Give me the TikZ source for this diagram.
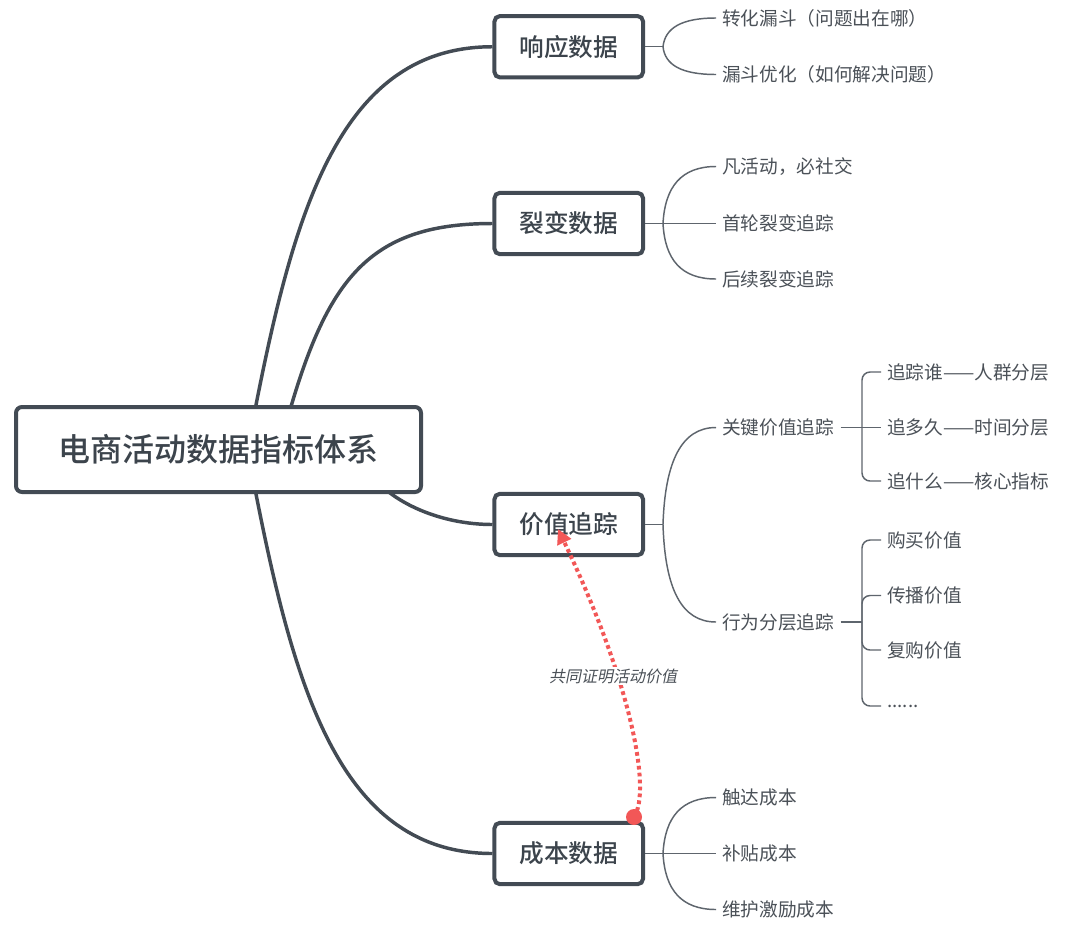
\documentclass[tikz,border=0pt]{standalone}
\usepackage{fontspec}
\setmainfont{Noto Sans CJK SC}
\newfontfamily\medfont{Noto Sans CJK SC Medium}
\newfontfamily\slantfont[FakeSlant=0.2]{Noto Sans CJK SC}
\usetikzlibrary{arrows.meta,backgrounds}
\definecolor{boxline}{HTML}{434B54}
\definecolor{txt}{HTML}{3C444C}
\definecolor{subtxt}{HTML}{4B5158}
\definecolor{subline}{HTML}{5E656D}
\definecolor{redline}{HTML}{F25757}
\begin{document}
\begin{tikzpicture}[x=0.75pt,y=-0.75pt,
 rootbox/.style={draw=boxline,line width=3pt,rounded corners=4.5pt,fill=white,minimum width=303.75pt,minimum height=63.75pt,inner sep=0pt,font=\medfont\fontsize{24}{28}\selectfont,text=txt},
 branchbox/.style={draw=boxline,line width=3pt,rounded corners=4pt,fill=white,minimum width=111.4pt,minimum height=46pt,inner sep=0pt,font=\medfont\fontsize{18.5}{22}\selectfont,text=txt},
 leaf/.style={anchor=west,inner xsep=4.5pt,inner ysep=2pt,font=\fontsize{14}{17}\selectfont,text=subtxt},
 mainlink/.style={draw=boxline,line width=2.6pt},
 sublink/.style={draw=subline,line width=1.1pt},
 bracket/.style={draw=subline,line width=1.1pt,rounded corners=6pt}]
\useasboundingbox (0,0) rectangle (1080,939);

% main nodes
\node[rootbox] (root) at (218.5,449.5) {电商活动数据指标体系};
\node[branchbox] (b1) at (568.75,46.75) {响应数据};
\node[branchbox] (b2) at (568.75,223.5) {裂变数据};
\node[branchbox] (b3) at (568.75,524.5) {价值追踪};
\node[branchbox] (b4) at (568.75,853.5) {成本数据};

% leaves
\node[leaf] (c11) at (716,18) {转化漏斗（问题出在哪）};
\node[leaf] (c12) at (716,74.5) {漏斗优化（如何解决问题）};
\node[leaf] (c21) at (716,166.5) {凡活动，必社交};
\node[leaf] (c22) at (716,223.5) {首轮裂变追踪};
\node[leaf] (c23) at (716,279) {后续裂变追踪};
\node[leaf] (k1) at (716,427.5) {关键价值追踪};
\node[leaf] (k2) at (716,622) {行为分层追踪};
\node[leaf] (g1) at (881,372) {追踪谁——人群分层};
\node[leaf] (g2) at (881,427.5) {追多久——时间分层};
\node[leaf] (g3) at (881,481) {追什么——核心指标};
\node[leaf] (h1) at (881,540) {购买价值};
\node[leaf] (h2) at (881,595.5) {传播价值};
\node[leaf] (h3) at (881,650) {复购价值};
\node[leaf] (h4) at (881,706) {......};
\node[leaf] (c41) at (716,797.5) {触达成本};
\node[leaf] (c42) at (716,853.5) {补贴成本};
\node[leaf] (c43) at (716,909.5) {维护激励成本};

% coordinates
\coordinate (s1) at (255,410);
\coordinate (s2) at (290,410);
\coordinate (s3) at (385,489);
\coordinate (s4) at (255,489);
\coordinate (j1) at (663,46.75);
\coordinate (j2) at (663,223.5);
\coordinate (j3) at (663,524.5);
\coordinate (j4) at (663,853.5);
\coordinate (kj1) at (862,427.5);
\coordinate (kj2) at (862,622);

\begin{scope}[on background layer]
\fill[white] (0,0) rectangle (1080,939);
\draw[mainlink] (s1) .. controls (295,206) and (342,46.75) .. (b1.west);
\draw[mainlink] (s2) .. controls (329,276) and (372,223.5) .. (b2.west);
\draw[mainlink] (s3) .. controls (410,510) and (450,524.5) .. (b3.west);
\draw[mainlink] (s4) .. controls (295,693) and (342,853.5) .. (b4.west);
\end{scope}

% branch -> leaves
\draw[sublink] (b1.east) -- (j1);
\draw[sublink] (j1) .. controls (665,28) and (681.5,18) .. (c11.west);
\draw[sublink] (j1) .. controls (665,65) and (681.5,74.5) .. (c12.west);

\draw[sublink] (b2.east) -- (j2);
\draw[sublink] (j2) .. controls (665,186.5) and (681.5,166.5) .. (c21.west);
\draw[sublink] (j2) -- (c22.west);
\draw[sublink] (j2) .. controls (665,260) and (681.5,279) .. (c23.west);

\draw[sublink] (b3.east) -- (j3);
\draw[sublink] (j3) .. controls (665,461.5) and (681.5,427.5) .. (k1.west);
\draw[sublink] (j3) .. controls (665,589) and (681.5,622) .. (k2.west);

\draw[sublink] (b4.east) -- (j4);
\draw[sublink] (j4) .. controls (665,817) and (681.5,797.5) .. (c41.west);
\draw[sublink] (j4) -- (c42.west);
\draw[sublink] (j4) .. controls (665,890) and (681.5,909.5) .. (c43.west);

% brackets
\draw[sublink] (k1.east) -- (kj1);
\draw[bracket] (kj1) |- (g1.west);
\draw[bracket] (kj1) -- (g2.west);
\draw[bracket] (kj1) |- (g3.west);

\draw[sublink] (k2.east) -- (kj2);
\draw[bracket] (kj2) |- (h1.west);
\draw[bracket] (kj2) |- (h2.west);
\draw[bracket] (kj2) |- (h3.west);
\draw[bracket] (kj2) |- (h4.west);

% red dotted relation
\node[circle,fill=redline,minimum size=12pt,inner sep=0pt] (dot) at (634,817) {};
\coordinate (tip) at (558,529);
\draw[redline,line width=3pt,dash pattern=on 2.8pt off 2.4pt,-{Triangle[length=11pt,width=11pt]}]
  (dot.center) .. controls (652,790) and (630,680) .. (tip);
\node[fill=white,inner sep=1pt,font=\slantfont\fontsize{12}{14}\selectfont,text=subtxt] (lbl) at (613,676) {共同证明活动价值};
\end{tikzpicture}
\end{document}
